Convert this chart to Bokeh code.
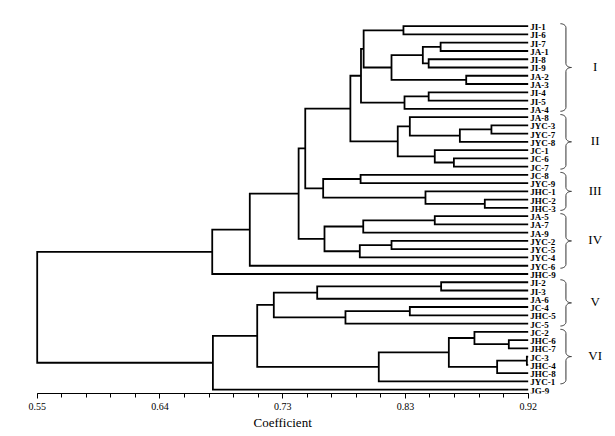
from bokeh.plotting import figure
from bokeh.models import Range1d, LinearAxis, FixedTicker, Title
from bokeh.core.properties import value
from bokeh.embed import file_html
from bokeh.resources import INLINE
import numpy as np

# ---------------- data ----------------
leaves = ["JI-1", "JI-6", "JI-7", "JA-1", "JI-8", "JI-9", "JA-2", "JA-3", "JI-4", "JI-5", "JA-4",
          "JA-8", "JYC-3", "JYC-7", "JYC-8", "JC-1", "JC-6", "JC-7",
          "JC-8", "JYC-9", "JHC-1", "JHC-2", "JHC-3",
          "JA-5", "JA-7", "JA-9", "JYC-2", "JYC-5", "JYC-4", "JYC-6",
          "JHC-9",
          "JI-2", "JI-3", "JA-6", "JC-4", "JHC-5", "JC-5",
          "JC-2", "JHC-6", "JHC-7", "JC-3", "JHC-4", "JHC-8", "JYC-1",
          "JG-9"]

# (node, child_a, child_b, coefficient)
merges = [
    ("n1", "JI-1", "JI-6", 0.826),
    ("n2", "JI-7", "JA-1", 0.854),
    ("n3", "JI-8", "JI-9", 0.845),
    ("n4", "n2", "n3", 0.8406),
    ("n5", "JA-2", "JA-3", 0.8733),
    ("n6", "n4", "n5", 0.817),
    ("n7", "n1", "n6", 0.796),
    ("n8", "JI-4", "JI-5", 0.845),
    ("n9", "n8", "JA-4", 0.8268),
    ("n10", "n7", "n9", 0.794),
    ("n11", "JYC-3", "JYC-7", 0.8923),
    ("n12", "n11", "JYC-8", 0.8685),
    ("n13", "JA-8", "n12", 0.8308),
    ("n14", "JC-6", "JC-7", 0.864),
    ("n15", "JC-1", "n14", 0.8496),
    ("n16", "n13", "n15", 0.8217),
    ("n17", "n10", "n16", 0.786),
    ("n18", "JC-8", "JYC-9", 0.7937),
    ("n19", "JHC-2", "JHC-3", 0.8873),
    ("n20", "JHC-1", "n19", 0.8426),
    ("n21", "n18", "n20", 0.7655),
    ("n22", "n17", "n21", 0.752),
    ("n23", "JA-5", "JA-7", 0.8496),
    ("n24", "n23", "JA-9", 0.7957),
    ("n25", "JYC-2", "JYC-5", 0.817),
    ("n26", "n25", "JYC-4", 0.7931),
    ("n27", "n24", "n26", 0.7665),
    ("n28", "n22", "n27", 0.747),
    ("n29", "n28", "JYC-6", 0.7102),
    ("n30", "n29", "JHC-9", 0.6819),
    ("n31", "JI-2", "JI-3", 0.8544),
    ("n32", "n31", "JA-6", 0.761),
    ("n33", "JC-4", "JHC-5", 0.8308),
    ("n34", "n33", "JC-5", 0.7823),
    ("n35", "n32", "n34", 0.7283),
    ("n36", "JHC-6", "JHC-7", 0.9054),
    ("n37", "JC-2", "n36", 0.8795),
    ("n38", "JC-3", "JHC-4", 0.919),
    ("n39", "n38", "JHC-8", 0.8966),
    ("n40", "n37", "n39", 0.8602),
    ("n41", "n40", "JYC-1", 0.8074),
    ("n42", "n35", "n41", 0.7158),
    ("n43", "n42", "JG-9", 0.6824),
    ("root", "n30", "n43", 0.55),
]

leaf_coefficient = 0.92

groups = ["I", "II", "III", "IV", "V", "VI"]
group_first = ["JI-1", "JA-8", "JC-8", "JA-5", "JI-2", "JC-2"]
group_last = ["JA-4", "JC-7", "JHC-3", "JYC-6", "JC-5", "JYC-1"]

tick_values = [0.55, 0.6425, 0.735, 0.8275, 0.92]
tick_labels = ["0.55", "0.64", "0.73", "0.83", "0.92"]
minor_step = 0.0185

# ---------------- figure ----------------
X0, X1 = 0.52837, 0.98052
Y_BOTTOM, Y_TOP = 44.47, -2.143
FW, FH = 600, 385
px_x = FW / (X1 - X0)
px_y = FH / (Y_BOTTOM - Y_TOP)

p = figure(frame_width=FW, frame_height=FH,
           x_range=Range1d(X0, X1), y_range=Range1d(Y_BOTTOM, Y_TOP),
           output_backend="svg", toolbar_location=None,
           x_axis_type=None, y_axis_type=None,
           min_border_left=8, min_border_right=0, min_border_top=8, min_border_bottom=0)
p.outline_line_color = None
p.xgrid.visible = False
p.ygrid.visible = False
p.background_fill_color = "white"
p.border_fill_color = "white"

# dendrogram
ypos = {n: i for i, n in enumerate(leaves)}
xpos = {n: leaf_coefficient for n in leaves}
xs, ys = [], []
for node, a, b, h in merges:
    ya, yb = ypos[a], ypos[b]
    xs.append([xpos[a], h, h, xpos[b]])
    ys.append([ya, ya, yb, yb])
    ypos[node] = (ya + yb) / 2
    xpos[node] = h
p.multi_line(xs, ys, line_color="black", line_width=1.8, line_join="miter", line_cap="butt")

# leaf labels
p.text(x=[leaf_coefficient] * len(leaves), y=list(range(len(leaves))), text=leaves,
       text_font=value("Liberation Serif"), text_font_style="bold", text_font_size="9px",
       text_baseline="middle", text_align="left", x_offset=2, y_offset=1, text_color="black")

# braces
bx0 = 0.9443
bw = 11 / px_x
bh = bw / 2
r = 4 / px_y
t = np.linspace(0, np.pi / 2, 12)
bxs, bys, mids = [], [], []
for first, last in zip(group_first, group_last):
    top = ypos[first] - 0.3
    bot = ypos[last] + 0.3
    mid = (top + bot) / 2
    mids.append(mid)
    xa = bh * np.sin(t); ya = top + r - r * np.cos(t)
    xc = bw - bh * np.cos(t); yc = mid - r + r * np.sin(t)
    xd = (bw - bh * np.cos(t))[::-1]; yd = (mid + r - r * np.sin(t))[::-1]
    xf = bh * np.cos(t); yf = bot - r + r * np.sin(t)
    bx = np.concatenate([xa, xc, xd, xf]) + bx0
    by = np.concatenate([ya, yc, yd, yf])
    bxs.append(list(bx)); bys.append(list(by))
p.multi_line(bxs, bys, line_color="#333333", line_width=1)

p.text(x=[0.9705] * len(groups), y=mids, text=groups,
       text_font=value("Liberation Serif"), text_font_size="13px",
       text_align="center", text_baseline="middle", y_offset=-1, text_color="black")

# axis
minor = [0.55 + k * minor_step for k in range(21)]
ax = LinearAxis(ticker=FixedTicker(ticks=tick_values, minor_ticks=minor),
                major_label_overrides=dict(zip(tick_values, tick_labels)),
                bounds=(0.55, 0.92))
ax.axis_line_color = "black"
ax.major_tick_line_color = "black"
ax.minor_tick_line_color = "black"
ax.major_tick_in = 0
ax.major_tick_out = 5
ax.minor_tick_in = 0
ax.minor_tick_out = 4
ax.major_label_text_font = "Liberation Serif"
ax.major_label_text_font_size = "10px"
ax.major_label_text_color = "black"
ax.major_label_standoff = 4
p.add_layout(ax, "below")

title = Title(text="Coefficient", align="left", offset=245, standoff=0,
              text_font="Liberation Serif", text_font_size="13px",
              text_font_style="normal", text_color="black")
p.add_layout(title, "below")

open("out.html", "w").write(file_html(p, INLINE))
